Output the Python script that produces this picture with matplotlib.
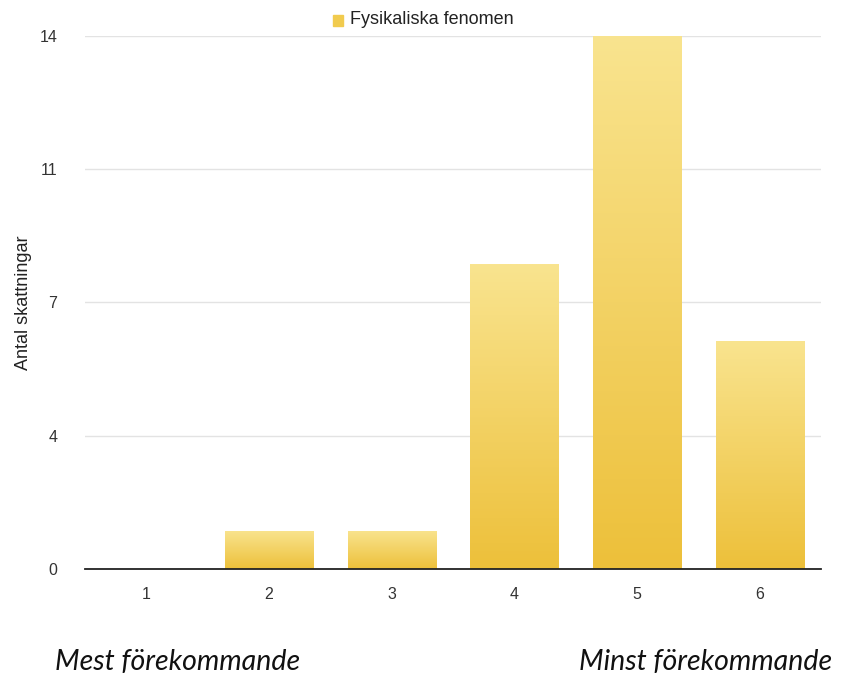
import matplotlib
matplotlib.use("Agg")
import matplotlib.pyplot as plt
import numpy as np
from matplotlib.colors import LinearSegmentedColormap

categories = ["1", "2", "3", "4", "5", "6"]
values = [0, 1, 1, 8, 14, 6]
ytick_pos = [0, 3.5, 7, 10.5, 14]
ytick_labels = ["0", "4", "7", "11", "14"]
series_name = "Fysikaliska fenomen"
ylabel = "Antal skattningar"

plt.rcParams["font.family"] = ["Liberation Sans", "DejaVu Sans"]

fig = plt.figure(figsize=(8.46, 6.75), dpi=100)
ax = fig.add_axes([85/846, 1-569/675, 736/846, 533/675])

x = np.arange(1, len(categories)+1)
bars = ax.bar(x, values, width=0.72, color="#F3D060", edgecolor="none", zorder=2)

cmap = LinearSegmentedColormap.from_list("g", ["#EDC03A", "#F9E48F"])
grad = np.linspace(0, 1, 256).reshape(-1, 1)
for b in bars:
    h = b.get_height()
    if h <= 0:
        continue
    x0 = b.get_x(); w = b.get_width()
    im = ax.imshow(grad, cmap=cmap, aspect="auto", origin="lower",
                   extent=[x0, x0+w, 0, h], zorder=3)
    im.set_clip_path(b)

ax.set_xlim(0.5, 6.5)
ax.set_ylim(0, 14)
ax.set_yticks(ytick_pos)
ax.set_yticklabels(ytick_labels)
ax.set_xticks(x)
ax.set_xticklabels(categories)
ax.yaxis.grid(True, color="#E3E3E3", linewidth=1, zorder=0)
ax.set_axisbelow(True)
for s in ["top", "right", "left"]:
    ax.spines[s].set_visible(False)
ax.spines["bottom"].set_color("#222222")
ax.spines["bottom"].set_linewidth(1.3)
ax.spines["bottom"].set_zorder(5)
ax.tick_params(axis="both", length=0, labelsize=11.5, colors="#333333")
ax.tick_params(axis="y", pad=20)
ax.tick_params(axis="x", pad=13)
ax.set_ylabel(ylabel, fontsize=13, color="#222222")
ax.yaxis.set_label_coords(-0.072, 0.5)

# legend
fig.patches.append(plt.Rectangle((333/846, 1-26/675), 10/846, 11/675,
                                 transform=fig.transFigure, color="#F1CB4E"))
fig.text(350/846, 1-20/675, series_name, fontsize=13, color="#222222",
         va="center", ha="left")

fig.text(55/846, 1-662/675, "Mest förekommande", fontsize=20.5, style="italic",
         family="Lato", va="center", ha="left", color="#111111")
fig.text(832/846, 1-662/675, "Minst förekommande", fontsize=20.5, style="italic",
         family="Lato", va="center", ha="right", color="#111111")

fig.savefig("out.png", dpi=100)
